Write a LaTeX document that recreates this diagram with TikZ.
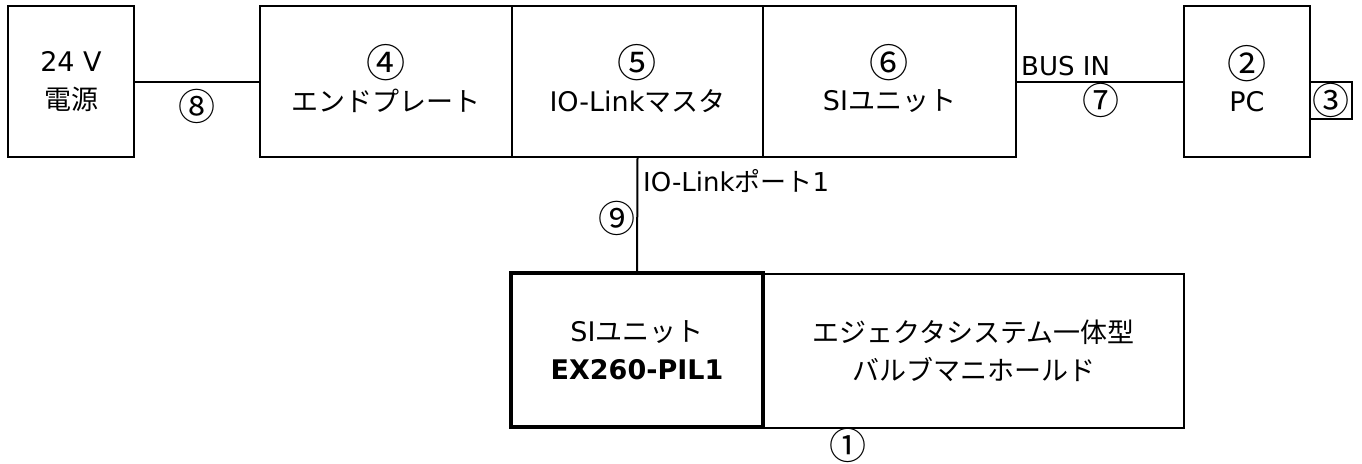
\documentclass[tikz,border=0pt]{standalone}
\usepackage{fontspec}
\setmainfont{Noto Sans CJK JP}
\newfontfamily\latf{DejaVu Sans}
\newcommand\lt[1]{{\latf #1}}
\newcommand\cn[1]{\vphantom{#1}\smash{\raisebox{-4.5pt}{\scalebox{1.45}{#1}}}}
\begin{document}
\begin{tikzpicture}[x=1pt,y=-1pt,
  box/.style={draw,line width=2pt,inner sep=0pt,outer sep=0pt,align=center,
    font=\fontsize{27}{38}\selectfont},
  thickbox/.style={box,line width=4pt},
  lbl/.style={inner sep=0pt,font=\fontsize{26}{30}\selectfont},
  num/.style={inner sep=0pt,font=\fontsize{37}{37}\selectfont},
  conn/.style={line width=2pt}]
\useasboundingbox (0,0) rectangle (1362,463);
\node[box,minimum width=126pt,minimum height=151pt] (psu) at (71,81.5) {\lt{24 V}\\電源};
\node[box,minimum width=252pt,minimum height=151pt] (ep) at (386,81.5) {\cn{④}\\エンドプレート};
\node[box,minimum width=251pt,minimum height=151pt] (iol) at (637.5,81.5) {\cn{⑤}\\\lt{IO-Link}マスタ};
\node[box,minimum width=253pt,minimum height=151pt] (si) at (889.5,81.5) {\cn{⑥}\\\lt{SI}ユニット};
\node[box,minimum width=126pt,minimum height=151pt] (pc) at (1247,81.5) {\cn{②}\\\lt{PC}};
\node[box,minimum width=42pt,minimum height=37pt] (usb) at (1331,100.5) {};
\node[num] (n3) at (usb.center) {③};
\node[box,minimum width=421pt,minimum height=154pt] (ej) at (973.5,351) {エジェクタシステム一体型\\バルブマニホールド};
\node[thickbox,minimum width=252pt,minimum height=154pt] (sib) at (637,350) {\lt{SI}ユニット\\{\latf\bfseries EX260-PIL1}};
\draw[conn] (psu.east) -- (ep.west);
\draw[conn] (si.east) -- (pc.west);
\draw[conn] (iol.south) -- (sib.north);
\node[num] (n8) at (197,106) {⑧};
\node[lbl,anchor=west] (bus) at (1021,66) {\lt{BUS IN}};
\node[num] (n7) at (1101,100) {⑦};
\node[lbl,anchor=west] (port) at (643,181) {\lt{IO-Link}ポート\lt{1}};
\node[num] (n9) at (617,218) {⑨};
\node[num] (n1) at (848,445) {①};
\end{tikzpicture}
\end{document}
